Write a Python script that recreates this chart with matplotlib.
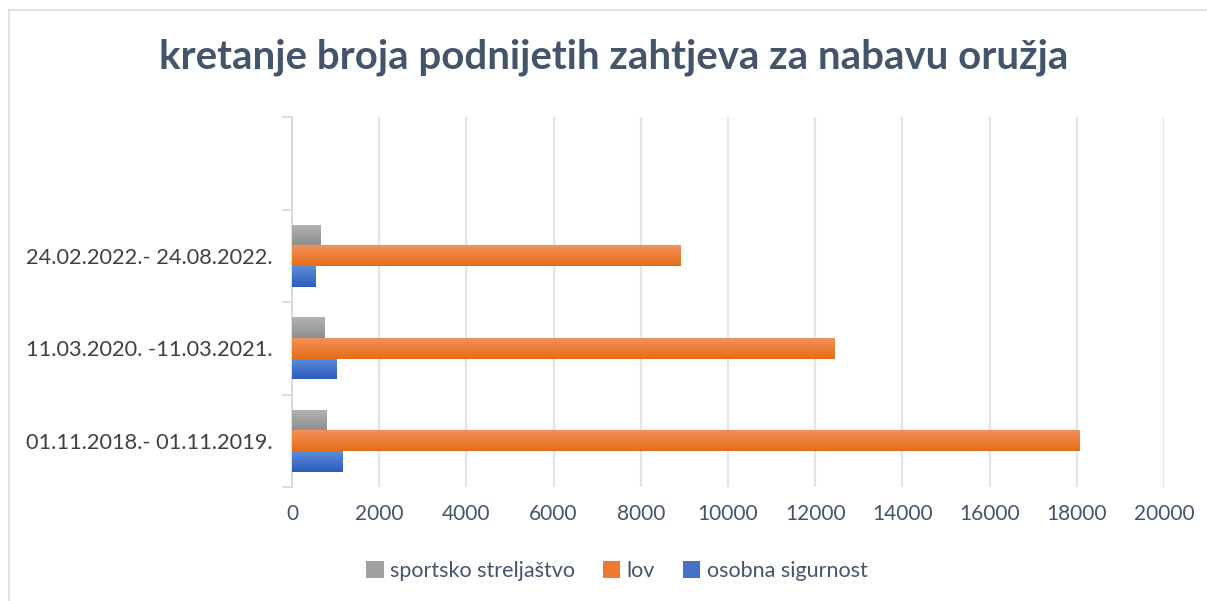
import matplotlib
matplotlib.use("Agg")
import matplotlib.pyplot as plt
import numpy as np
from matplotlib.lines import Line2D
from matplotlib.colors import LinearSegmentedColormap
from matplotlib.patches import Patch

plt.rcParams['font.family'] = ['Lato', 'DejaVu Sans']

categories = ["01.11.2018.- 01.11.2019.", "11.03.2020. -11.03.2021.", "24.02.2022.- 24.08.2022."]
sportsko = [800, 735, 645]
lov = [18060, 12450, 8920]
osobna = [1150, 1030, 550]
series_names = ["sportsko streljaštvo", "lov", "osobna sigurnost"]
xticks = list(range(0, 20001, 2000))

grads = {
    "sportsko streljaštvo": ("#B3B3B3", "#8F8F8F"),
    "lov": ("#F4915A", "#E46C17"),
    "osobna sigurnost": ("#5E8CDB", "#2C5DBA"),
}

fig = plt.figure(figsize=(12.07, 6.01), dpi=100)
ax = fig.add_axes([292/1207, 1-487/601, (1164-292)/1207, (487-117)/601])

w = 0.225
y = np.arange(len(categories))
text_c = "#44546A"

def grad_fill(bars, c_top, c_bot):
    cmap = LinearSegmentedColormap.from_list("g", [c_bot, c_top])
    for b in bars:
        b.set_facecolor("none")
        x0, y0 = b.get_x(), b.get_y()
        bw, bh = b.get_width(), b.get_height()
        im = ax.imshow(np.linspace(0, 1, 50).reshape(-1, 1), cmap=cmap, aspect='auto',
                       extent=[x0, x0 + bw, y0, y0 + bh], origin='lower', zorder=3)
        im.set_clip_path(b)

for vals, off, name in [(osobna, -w, "osobna sigurnost"), (lov, 0, "lov"), (sportsko, w, "sportsko streljaštvo")]:
    bars = ax.barh(y + off, vals, height=w, color=grads[name][1], linewidth=0, zorder=3, label=name)
    grad_fill(bars, *grads[name])

ax.set_xlim(0, 20000)
ax.set_ylim(-0.5, 3.5)
ax.set_xticks(xticks)
ax.set_xticklabels([str(t) for t in xticks], fontsize=15, color=text_c)
ax.set_yticks(y)
ax.set_yticklabels(categories, fontsize=15.7, color="#404040")
ax.tick_params(axis='y', length=0, pad=14)
ax.tick_params(axis='x', length=0, pad=12)
ax.set_yticks(np.arange(-0.5, 3.6, 1), minor=True)
ax.tick_params(axis='y', which='minor', length=7, color="#D9D9D9", width=1.3)
ax.grid(axis='x', color="#E1E5EB", linewidth=1.6, zorder=0)
for s in ['top', 'right', 'bottom']:
    ax.spines[s].set_visible(False)
ax.spines['left'].set_color("#D9D9D9")
ax.spines['left'].set_linewidth(1.3)

fig.text(614/1207, 1-57/601, "kretanje broja podnijetih zahtjeva za nabavu oružja",
         ha='center', va='center', fontsize=28.9, fontweight='bold', color=text_c)

handles = [Patch(facecolor="#A0A0A0", edgecolor='none'),
           Patch(facecolor="#EE7A30", edgecolor='none'),
           Patch(facecolor="#4472C4", edgecolor='none')]
fig.legend(handles, series_names, loc='center', bbox_to_anchor=(617/1207, 1-571/601), ncol=3,
           frameon=False, fontsize=15.5, labelcolor=text_c, handlelength=0.8, handleheight=0.8,
           handletextpad=0.3, columnspacing=1.3)

# chart-area border (top and left edges visible)
fig.lines.append(Line2D([8.5/1207, 8.5/1207], [0, 1-9.5/601], transform=fig.transFigure,
                        color="#DDE1E6", linewidth=1.3))
fig.lines.append(Line2D([8.5/1207, 1], [1-9.5/601, 1-9.5/601], transform=fig.transFigure,
                        color="#DDE1E6", linewidth=1.3))
fig.savefig("out.png", dpi=100)
